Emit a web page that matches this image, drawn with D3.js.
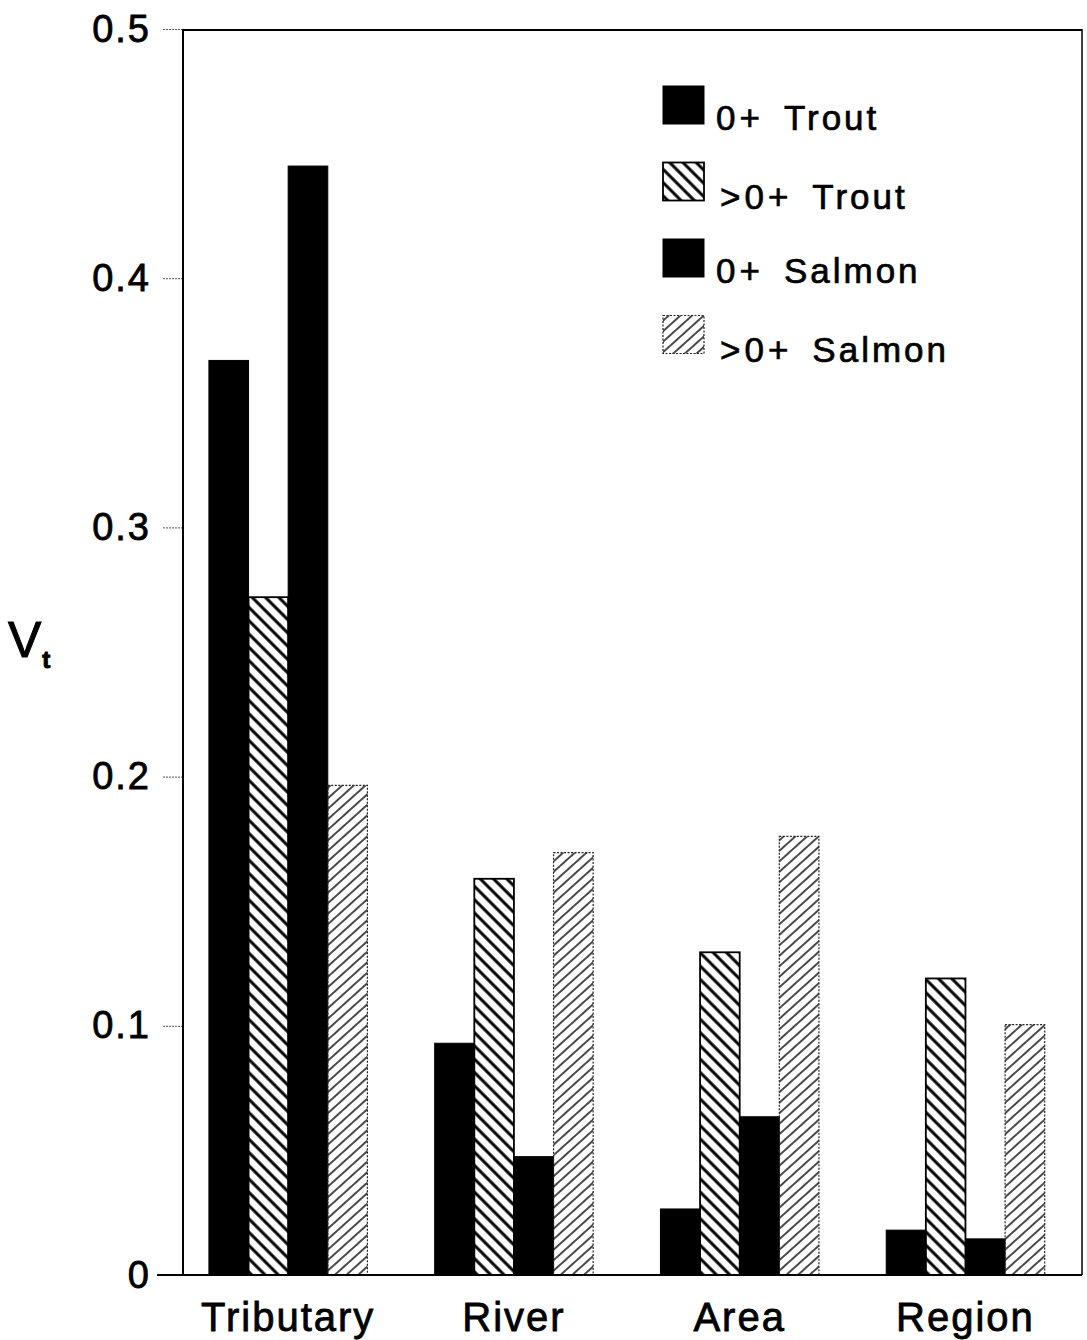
<!DOCTYPE html>
<html>
<head>
<meta charset="utf-8">
<script src="https://d3js.org/d3.v7.min.js"></script>
<style>
  body { margin: 0; background: #fff; }
  text { font-family: "Liberation Sans", Arial, sans-serif; }
</style>
</head>
<body>
<div id="chart"></div>
<script>
// values
const categories = ["Tributary", "River", "Area", "Region"];
const series = ["0+ Trout", ">0+ Trout", "0+ Salmon", ">0+ Salmon"];
const trout0 = [0.367, 0.093, 0.0265, 0.018];
const troutOlder = [0.272, 0.159, 0.1295, 0.119];
const salmon0 = [0.445, 0.0475, 0.0635, 0.0145];
const salmonOlder = [0.1965, 0.1695, 0.176, 0.1005];
const yTicks = [0, 0.1, 0.2, 0.3, 0.4, 0.5];

function draw(div) {
  const margin = {top: 29, right: 5, bottom: 65, left: 183};
  const visWidth = 1087 - margin.left - margin.right;
  const visHeight = 1340 - margin.top - margin.bottom;

  const svg = div.append('svg')
                  .attr('width', visWidth + margin.left + margin.right)
                  .attr('height', visHeight + margin.top + margin.bottom);

  const g = svg.append('g')
                .attr('transform', `translate(${margin.left}, ${margin.top})`);

  // hatch patterns
  const defs = svg.append("defs");
  defs.append("pattern")
      .attr("id", "hatchTrout")
      .attr("patternUnits", "userSpaceOnUse")
      .attr("width", 9.4)
      .attr("height", 9.4)
      .attr("patternTransform", "rotate(-45)")
    .append("line")
      .attr("x1", 4.7).attr("x2", 4.7)
      .attr("y1", 0).attr("y2", 9.4)
      .attr("stroke", "black")
      .attr("stroke-width", 3);
  defs.append("pattern")
      .attr("id", "hatchSalmon")
      .attr("patternUnits", "userSpaceOnUse")
      .attr("width", 7.8)
      .attr("height", 7.8)
      .attr("patternTransform", "rotate(48)")
    .append("line")
      .attr("x1", 3.9).attr("x2", 3.9)
      .attr("y1", 0).attr("y2", 7.8)
      .attr("stroke", "black")
      .attr("stroke-width", 1.4);

  const fills = ["black", "url(#hatchTrout)", "black", "url(#hatchSalmon)"];
  const strokes = ["black", "black", "black", "#222"];
  const dashes = [null, null, null, "2,1.5"];
  const widths = [1, 1.8, 1, 1.2];

  const x0 = d3.scaleBand()
    .domain(categories)
    .range([0, visWidth])
    .paddingInner(0.298)
    .paddingOuter(0.14)
    .align(0.41);

  const x1 = d3.scaleBand()
    .domain(series)
    .range([0, x0.bandwidth()]);

  const y = d3.scaleLinear()
    .domain([0, 0.5])
    .range([visHeight, 0]);

  // y axis: short outside ticks, labels
  const yAxis = d3.axisLeft(y)
    .tickValues(yTicks)
    .tickSize(21)
    .tickPadding(11)
    .tickFormat(d => d === 0 ? "0" : d3.format(".1f")(d));

  g.append("g")
    .call(yAxis)
    .call(g => g.select(".domain").remove())
    .call(g => g.selectAll(".tick line")
                .attr("stroke", "#555")
                .attr("stroke-dasharray", "2,1"))
    .call(g => g.selectAll(".tick text")
                .attr("font-size", 38)
                .attr("letter-spacing", 2)
                .attr("fill", "black")
                .attr("stroke", "black")
                .attr("stroke-width", 0.8));

  // category labels
  const xAxis = d3.axisBottom(x0).tickSize(0).tickPadding(0);
  g.append("g")
    .attr("transform", `translate(0, ${visHeight})`)
    .call(xAxis)
    .call(g => g.select(".domain").remove())
    .call(g => g.selectAll(".tick text")
                .attr("y", 56)
                .attr("dy", 0)
                .attr("font-size", 40)
                .attr("letter-spacing", 2)
                .attr("fill", "black")
                .attr("stroke", "black")
                .attr("stroke-width", 0.8));

  // bars
  const rows = categories.map((c, i) => ({
    category: c,
    values: [trout0[i], troutOlder[i], salmon0[i], salmonOlder[i]]
      .map((v, j) => ({series: series[j], j: j, value: v}))
  }));

  g.selectAll(".group")
    .data(rows)
    .join("g")
    .attr("class", "group")
    .attr("transform", d => `translate(${x0(d.category)}, 0)`)
    .selectAll("rect")
    .data(d => d.values)
    .join("rect")
    .attr("x", d => x1(d.series))
    .attr("y", d => y(d.value))
    .attr("width", x1.bandwidth())
    .attr("height", d => y(0) - y(d.value))
    .attr("fill", d => fills[d.j])
    .attr("stroke", d => strokes[d.j])
    .attr("stroke-width", d => widths[d.j])
    .attr("stroke-dasharray", d => dashes[d.j]);

  // frame
  g.append("line")
    .attr("x1", 0).attr("x2", 0)
    .attr("y1", 0).attr("y2", visHeight)
    .attr("stroke", "black").attr("stroke-width", 2);
  g.append("line")
    .attr("x1", 0).attr("x2", visWidth)
    .attr("y1", 1).attr("y2", 1)
    .attr("stroke", "black").attr("stroke-width", 2);
  g.append("line")
    .attr("x1", visWidth).attr("x2", visWidth)
    .attr("y1", 0).attr("y2", visHeight)
    .attr("stroke", "black").attr("stroke-width", 1.5);
  g.append("line")
    .attr("x1", -26).attr("x2", visWidth)
    .attr("y1", visHeight).attr("y2", visHeight)
    .attr("stroke", "black").attr("stroke-width", 2);

  // y label V_t
  const yl = svg.append("text")
    .attr("x", 8)
    .attr("y", 657)
    .attr("font-size", 50)
    .attr("fill", "black")
    .attr("stroke", "black")
    .attr("stroke-width", 1);
  yl.append("tspan").text("V");
  yl.append("tspan")
    .attr("font-size", 24)
    .attr("dx", 1)
    .attr("dy", 11)
    .attr("font-weight", "bold")
    .text("t");

  // legend
  const legend = svg.append("g")
    .attr("transform", "translate(663, 86)");
  const item = legend.selectAll("g")
    .data(series)
    .join("g")
    .attr("transform", (d, i) => `translate(0, ${i * 76.5})`);
  item.append("rect")
    .attr("width", 41)
    .attr("height", 38)
    .attr("fill", (d, i) => fills[i])
    .attr("stroke", (d, i) => strokes[i])
    .attr("stroke-width", (d, i) => widths[i])
    .attr("stroke-dasharray", (d, i) => dashes[i]);
  item.append("text")
    .attr("x", (d, i) => i % 2 === 0 ? 53 : 57)
    .attr("y", (d, i) => i % 2 === 0 ? 44 : 46)
    .attr("font-size", 35)
    .attr("fill", "black")
    .attr("stroke", "black")
    .attr("stroke-width", 0.7)
    .style("white-space", "pre")
    .selectAll("tspan")
    .data(d => d.split(" "))
    .join("tspan")
    .attr("dx", (d, i) => i === 0 ? 0 : 20)
    .attr("letter-spacing", (d, i) => i === 0 ? 4 : 3)
    .text(d => d);
}

draw(d3.select("#chart"));
</script>
</body>
</html>
